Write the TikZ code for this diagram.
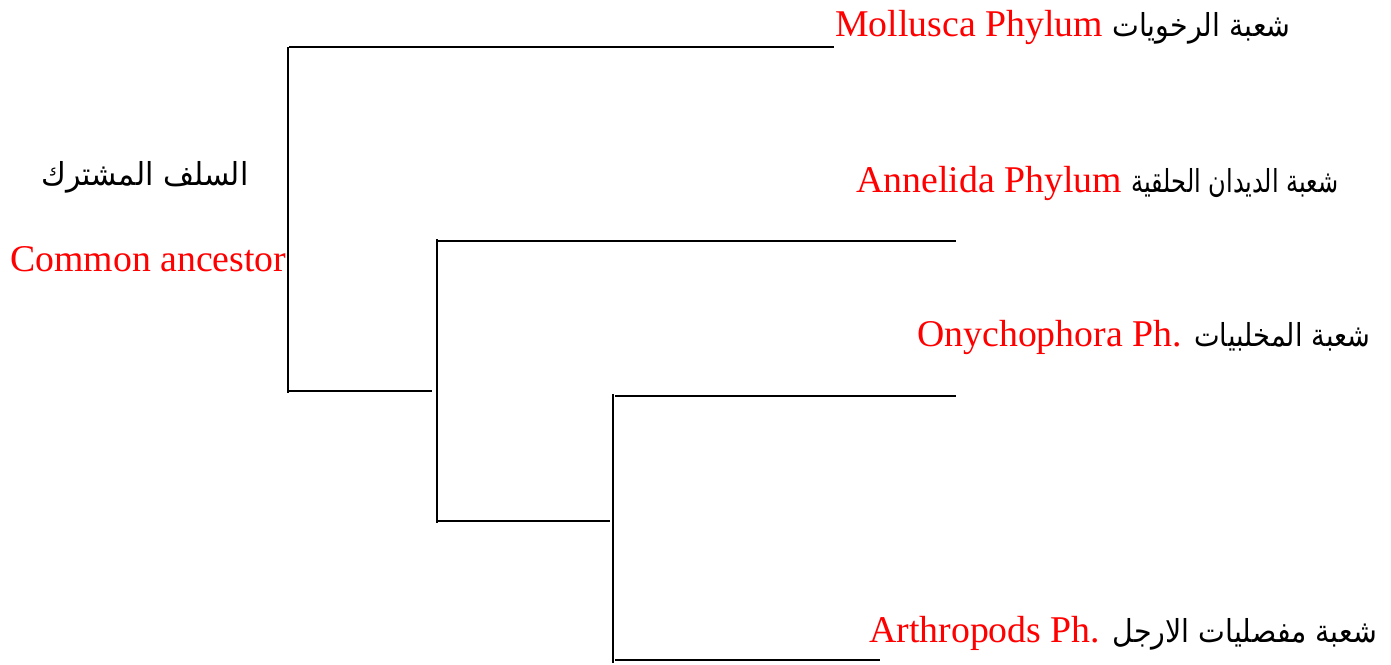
\documentclass[tikz,border=0pt]{standalone}
\usepackage{fontspec}
\usepackage{graphicx}
\setmainfont{Liberation Serif}
\newfontfamily\arabicfont[Script=Arabic]{DejaVu Sans}
\TeXXeTstate=1
\tikzset{
    branch/.style={line width=1.2pt, line cap=rect},
    taxon/.style={anchor=base west, inner sep=0pt, font=\fontsize{21.5}{24}\selectfont},
}
\newcommand{\ar}[2][0.9]{\scalebox{#1}[1]{\arabicfont\fontsize{18}{20}\selectfont\beginR #2\endR}}
\begin{document}
\begin{tikzpicture}[x=0.02cm, y=-0.02cm]

    \useasboundingbox (0,0) rectangle (1391,664);

    \node[taxon] (moll) at (835,36)  {\textcolor{red}{Mollusca Phylum} \ar{شعبة الرخويات}};
    \node[taxon] (anne) at (856,192) {\textcolor{red}{Annelida Phylum} \ar[0.76]{شعبة الديدان الحلقية}};
    \node[taxon] (onyc) at (917,346) {\textcolor{red}{Onychophora Ph.} \ar[0.86]{شعبة المخلبيات}};
    \node[taxon] (arth) at (869,642) {\textcolor{red}{Arthropods Ph.} \ar{شعبة مفصليات الارجل}};

    \node[taxon, anchor=base] (anc) at (145,185) {\ar[0.95]{السلف المشترك}};
    \node[taxon] (common) at (10,271) {\textcolor{red}{Common ancestor}};

    % first split
    \draw[branch] (288,48) -- (288,392);
    \draw[branch] (290,47) -- (833,47);
    \draw[branch] (290,391) -- (431,391);

    % second split
    \draw[branch] (437,240) -- (437,522);
    \draw[branch] (439,241) -- (955,241);
    \draw[branch] (439,521) -- (609,521);

    % third split
    \draw[branch] (613,395) -- (613,662);
    \draw[branch] (616,396) -- (955,396);
    \draw[branch] (616,660) -- (879,660);

\end{tikzpicture}
\end{document}
